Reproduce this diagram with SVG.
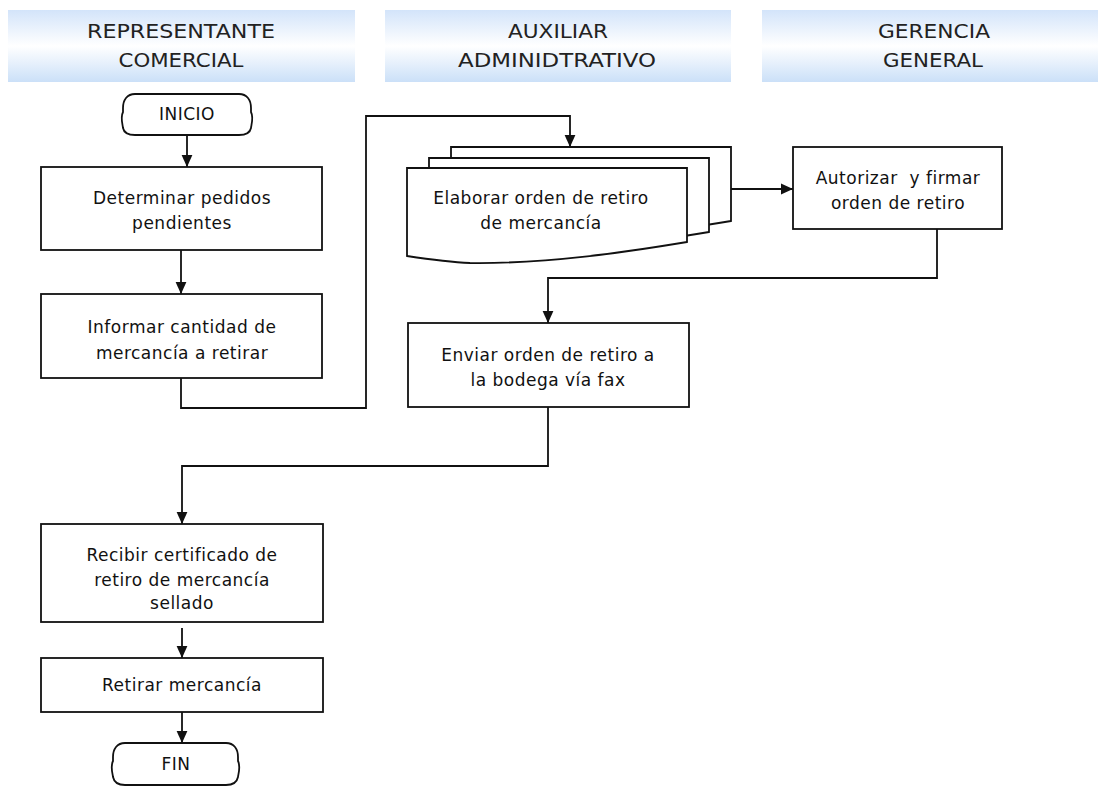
<svg xmlns="http://www.w3.org/2000/svg" xmlns:xlink="http://www.w3.org/1999/xlink" width="1098" height="786" viewBox="0 0 1098 786">
  <style>
    .lane { fill: url(#laneFill); }
    .hdr { font-family: "DejaVu Sans", "Liberation Sans", sans-serif; font-size: 20px; fill: #222; text-anchor: middle; }
    .box { fill: #fff; stroke: #111; stroke-width: 1.8; }
    .lbl { font-family: "DejaVu Sans", "Liberation Sans", sans-serif; font-size: 17px; letter-spacing: 0.5px; fill: #111; text-anchor: middle; }
    .wire { fill: none; stroke: #111; stroke-width: 1.8; }
  </style>
  <defs>
    <linearGradient id="laneFill" x1="0" y1="0" x2="0" y2="1">
      <stop offset="0" stop-color="#d3e4fa"/>
      <stop offset="0.5" stop-color="#ffffff"/>
      <stop offset="1" stop-color="#cbe0f8"/>
    </linearGradient>
    <marker id="arr" viewBox="0 0 10 10" refX="10" refY="5" markerWidth="12" markerHeight="12" markerUnits="userSpaceOnUse" orient="auto">
      <path d="M0,0.5 L10,5 L0,9.5 Z" fill="#111"/>
    </marker>
    <path id="doc" d="M0,0 H280 V74 C220,84 140,96 63,95 C40,94 20,91 0,88 Z"/>
  </defs>

  <rect width="1098" height="786" fill="#fff"/>

  <!-- swimlane headers -->
  <g id="lane-comercial">
    <rect class="lane" x="8" y="10" width="347" height="72"/>
    <text class="hdr" x="181" y="38" textLength="188" lengthAdjust="spacingAndGlyphs">REPRESENTANTE</text>
    <text class="hdr" x="181" y="67" textLength="125" lengthAdjust="spacingAndGlyphs">COMERCIAL</text>
  </g>
  <g id="lane-auxiliar">
    <rect class="lane" x="385" y="10" width="346" height="72"/>
    <text class="hdr" x="558" y="38" textLength="100" lengthAdjust="spacingAndGlyphs">AUXILIAR</text>
    <text class="hdr" x="557" y="67" textLength="198" lengthAdjust="spacingAndGlyphs">ADMINIDTRATIVO</text>
  </g>
  <g id="lane-gerencia">
    <rect class="lane" x="762" y="10" width="336" height="72"/>
    <text class="hdr" x="934" y="38" textLength="112" lengthAdjust="spacingAndGlyphs">GERENCIA</text>
    <text class="hdr" x="933" y="67" textLength="100" lengthAdjust="spacingAndGlyphs">GENERAL</text>
  </g>

  <!-- connectors -->
  <g id="connectors">
    <line class="wire" x1="187" y1="135" x2="187" y2="167" marker-end="url(#arr)"/>
    <line class="wire" x1="181" y1="250" x2="181" y2="294" marker-end="url(#arr)"/>
    <polyline class="wire" points="181,378 181,408 366,408 366,116 570,116 570,147" marker-end="url(#arr)"/>
    <line class="wire" x1="731" y1="189" x2="793" y2="189" marker-end="url(#arr)"/>
    <polyline class="wire" points="937,229 937,278 548,278 548,323" marker-end="url(#arr)"/>
    <polyline class="wire" points="548,407 548,466 182,466 182,524" marker-end="url(#arr)"/>
    <line class="wire" x1="182" y1="628" x2="182" y2="658" marker-end="url(#arr)"/>
    <line class="wire" x1="182" y1="712" x2="182" y2="743" marker-end="url(#arr)"/>
  </g>

  <!-- start -->
  <g id="inicio">
    <path class="box" d="M135,94 H239 C247,94 251,100 251,108 V112 C254,118 251,126 251,128 C250,133 246,135 239,135 H135 C128,135 124,133 123,128 C123,126 120,118 123,112 V108 C123,100 127,94 135,94 Z"/>
    <text class="lbl" x="187" y="120">INICIO</text>
  </g>

  <g id="determinar">
    <rect class="box" x="41" y="167" width="281" height="83"/>
    <text class="lbl" x="182" y="204">Determinar pedidos</text>
    <text class="lbl" x="182" y="229">pendientes</text>
  </g>

  <g id="informar">
    <rect class="box" x="41" y="294" width="281" height="84"/>
    <text class="lbl" x="182" y="333">Informar cantidad de</text>
    <text class="lbl" x="182" y="359">mercancía a retirar</text>
  </g>

  <!-- stacked documents -->
  <g id="elaborar">
    <use xlink:href="#doc" href="#doc" class="box" transform="translate(451,147)"/>
    <use xlink:href="#doc" href="#doc" class="box" transform="translate(429,158)"/>
    <use xlink:href="#doc" href="#doc" class="box" transform="translate(407,168)"/>
    <text class="lbl" x="541" y="204">Elaborar orden de retiro</text>
    <text class="lbl" x="541" y="229">de mercancía</text>
  </g>

  <g id="autorizar">
    <rect class="box" x="793" y="147" width="209" height="82"/>
    <text class="lbl" x="898" y="184" xml:space="preserve">Autorizar  y firmar</text>
    <text class="lbl" x="898" y="209">orden de retiro</text>
  </g>

  <g id="enviar">
    <rect class="box" x="408" y="323" width="281" height="84"/>
    <text class="lbl" x="548" y="361">Enviar orden de retiro a</text>
    <text class="lbl" x="548" y="386">la bodega vía fax</text>
  </g>

  <g id="recibir">
    <rect class="box" x="41" y="524" width="282" height="98"/>
    <text class="lbl" x="182" y="561">Recibir certificado de</text>
    <text class="lbl" x="182" y="586">retiro de mercancía</text>
    <text class="lbl" x="182" y="609">sellado</text>
  </g>

  <g id="retirar">
    <rect class="box" x="41" y="658" width="282" height="54"/>
    <text class="lbl" x="182" y="691">Retirar mercancía</text>
  </g>

  <!-- end -->
  <g id="fin">
    <path class="box" d="M125,743 H226 C234,743 238,749 238,757 V761 C241,767 238,775 238,777 C237,782 233,785 226,785 H125 C118,785 114,782 113,777 C113,775 110,767 113,761 V757 C113,749 117,743 125,743 Z"/>
    <text class="lbl" x="176" y="770">FIN</text>
  </g>
</svg>
